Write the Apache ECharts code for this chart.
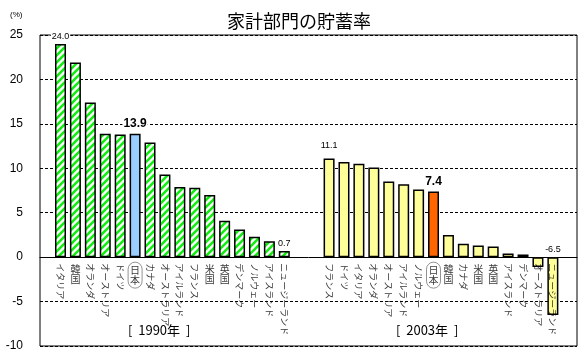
<!DOCTYPE html>
<html><head><meta charset="utf-8">
<script src="https://cdn.jsdelivr.net/npm/echarts@6/dist/echarts.min.js"></script>
<style>html,body{margin:0;padding:0;background:#fff}#c{width:580px;height:355px}</style>
</head><body><div id="c"></div>
<script>
const titleText = '家計部門の貯蓄率';
const unitText = '(%)';
const names1990 = ['イタリア','韓国','オランダ','オーストリア','ドイツ','日本','カナダ','オーストラリア','アイルランド','フランス','米国','英国','デンマーク','ノルウェー','アイスランド','ニュージーランド'];
const values1990 = [24.0, 21.9, 17.4, 13.9, 13.8, 13.9, 12.9, 9.3, 7.9, 7.8, 7.0, 4.1, 3.1, 2.3, 1.8, 0.7];
const names2003 = ['フランス','ドイツ','イタリア','オランダ','オーストリア','アイルランド','ノルウェー','日本','韓国','カナダ','米国','英国','アイスランド','デンマーク','オーストラリア','ニュージーランド'];
const values2003 = [11.1, 10.7, 10.5, 10.1, 8.5, 8.2, 7.6, 7.4, 2.5, 1.5, 1.3, 1.2, 0.4, 0.3, -1.1, -6.5];
const groupLabels = ['[  1990年  ]', '[  2003年  ]'];
const yTicks = [-10, -5, 0, 5, 10, 15, 20, 25];
const shownValues1990 = {0: 'small', 5: 'bold', 15: 'small'};
const shownValues2003 = {0: 'small', 7: 'bold', 15: 'small'};

const JP = '"Noto Sans CJK JP", sans-serif';
const NUM = '"Liberation Sans", Arial, sans-serif';

// hatch pattern
const P = 7;
const pc = document.createElement('canvas');
pc.width = P; pc.height = P;
const px = pc.getContext('2d');
px.fillStyle = '#ffffff'; px.fillRect(0,0,P,P);
px.strokeStyle = '#11ee11'; px.lineWidth = 2.6;
px.beginPath();
px.moveTo(-P/2,P/2); px.lineTo(P/2,-P/2);
px.moveTo(0,P); px.lineTo(P,0);
px.moveTo(P/2,P*1.5); px.lineTo(P*1.5,P/2);
px.stroke();

const gap = 2;
const cats = [].concat(names1990, Array(gap).fill(''), names2003);
const N = cats.length;
const off2003 = names1990.length + gap;

function valueLabel(kind, v){
  if (kind === 'bold') return {show:true, position:'top', distance:4, fontFamily:NUM, fontWeight:'bold', fontSize:12, color:'#000', backgroundColor:'#fff', padding:[0,1], formatter: v.toFixed(1)};
  return {show:true, position:'top', distance:3, fontFamily:NUM, fontSize:9, color:'#000', backgroundColor:'#fff', padding:[0,1], formatter: v.toFixed(1)};
}

const data1990 = [], data2003 = [], nameData = [];
for (let i = 0; i < N; i++) { data1990.push(null); data2003.push(null); }
values1990.forEach((v,i)=>{
  const it = {value:v};
  if (names1990[i] === '日本') it.itemStyle = {color:'#99ccff'};
  if (shownValues1990[i]) it.label = valueLabel(shownValues1990[i], v);
  data1990[i] = it;
});
values2003.forEach((v,i)=>{
  const it = {value:v};
  if (names2003[i] === '日本') it.itemStyle = {color:'#ff6600'};
  if (shownValues2003[i]) it.label = valueLabel(shownValues2003[i], v);
  if (i === 0 && it.label) it.label.distance = 8;
  data2003[i + off2003] = it;
});

const isKanji = s => /^[\u4e00-\u9fff]+$/.test(s);
cats.forEach((name, i) => {
  if (!name) { nameData.push(null); return; }
  let label;
  if (isKanji(name)) {
    label = {show:true, position:'bottom', distance:7, rotate:0, align:'center', verticalAlign:'top',
      formatter: name.split('').join('\n'), lineHeight:10, fontSize:10, fontFamily:JP, color:'#000'};
    if (name === '日本') Object.assign(label, {borderColor:'#777', borderWidth:1, borderRadius:9, padding:[3,2,3,2], distance:5});
  } else {
    label = {show:true, position:'bottom', distance:6, rotate:-90, align:'left', verticalAlign:'middle',
      formatter: name, fontSize:9, fontFamily:JP, color:'#000'};
  }
  nameData.push({value:0, label});
});

const chart = echarts.init(document.getElementById('c'), null, {renderer:'canvas'});
const T = 35, H = 311;
chart.setOption({
  animation:false,
  title:{text:titleText, left:222, top:7, textStyle:{fontFamily:JP, fontSize:18, fontWeight:'normal', color:'#000'}},
  grid:[
    {left:40, top:T, width:537, height:H, show:true, borderColor:'#000', borderWidth:1, backgroundColor:'transparent'},
    {left:53.04, top:T, width:507.3, height:H}
  ],
  xAxis:[
    {gridIndex:0, type:'value', min:0, max:1, axisLine:{show:true, onZero:true, lineStyle:{color:'#000', width:1}}, axisTick:{show:false}, axisLabel:{show:false}, splitLine:{show:false}},
    {gridIndex:1, type:'category', data:cats, axisLine:{show:false}, axisTick:{show:false}, axisLabel:{show:false}, splitLine:{show:false}}
  ],
  yAxis:[
    {gridIndex:0, type:'value', min:yTicks[0], max:yTicks[yTicks.length-1], interval:5,
      axisLine:{show:false}, axisTick:{show:false},
      axisLabel:{margin:17, fontFamily:NUM, fontSize:12, color:'#000'},
      splitLine:{show:true, lineStyle:{color:'#000', type:[3,2], width:1}}},
    {gridIndex:1, type:'value', min:yTicks[0], max:yTicks[yTicks.length-1], interval:5, show:false, splitLine:{show:false}}
  ],
  series:[
    {type:'bar', xAxisIndex:1, yAxisIndex:1, barWidth:11, barGap:'-100%', data:data1990,
      itemStyle:{color:{image:pc, repeat:'repeat'}, borderColor:'#000', borderWidth:1.5}},
    {type:'bar', xAxisIndex:1, yAxisIndex:1, barWidth:11, barGap:'-100%', data:data2003,
      itemStyle:{color:'#ffff99', borderColor:'#000', borderWidth:1.5}},
    {type:'scatter', xAxisIndex:1, yAxisIndex:1, symbolSize:0, silent:true, data:nameData, z:5}
  ],
  graphic:[
    {type:'text', left:10, top:11, style:{text:unitText, fontFamily:NUM, fontSize:8, fill:'#000'}},
    {type:'text', left:128, top:324, style:{text:groupLabels[0], fontFamily:JP, fontSize:13, fill:'#000'}},
    {type:'text', left:396, top:324, style:{text:groupLabels[1], fontFamily:JP, fontSize:13, fill:'#000'}}
  ]
});
</script></body></html>
